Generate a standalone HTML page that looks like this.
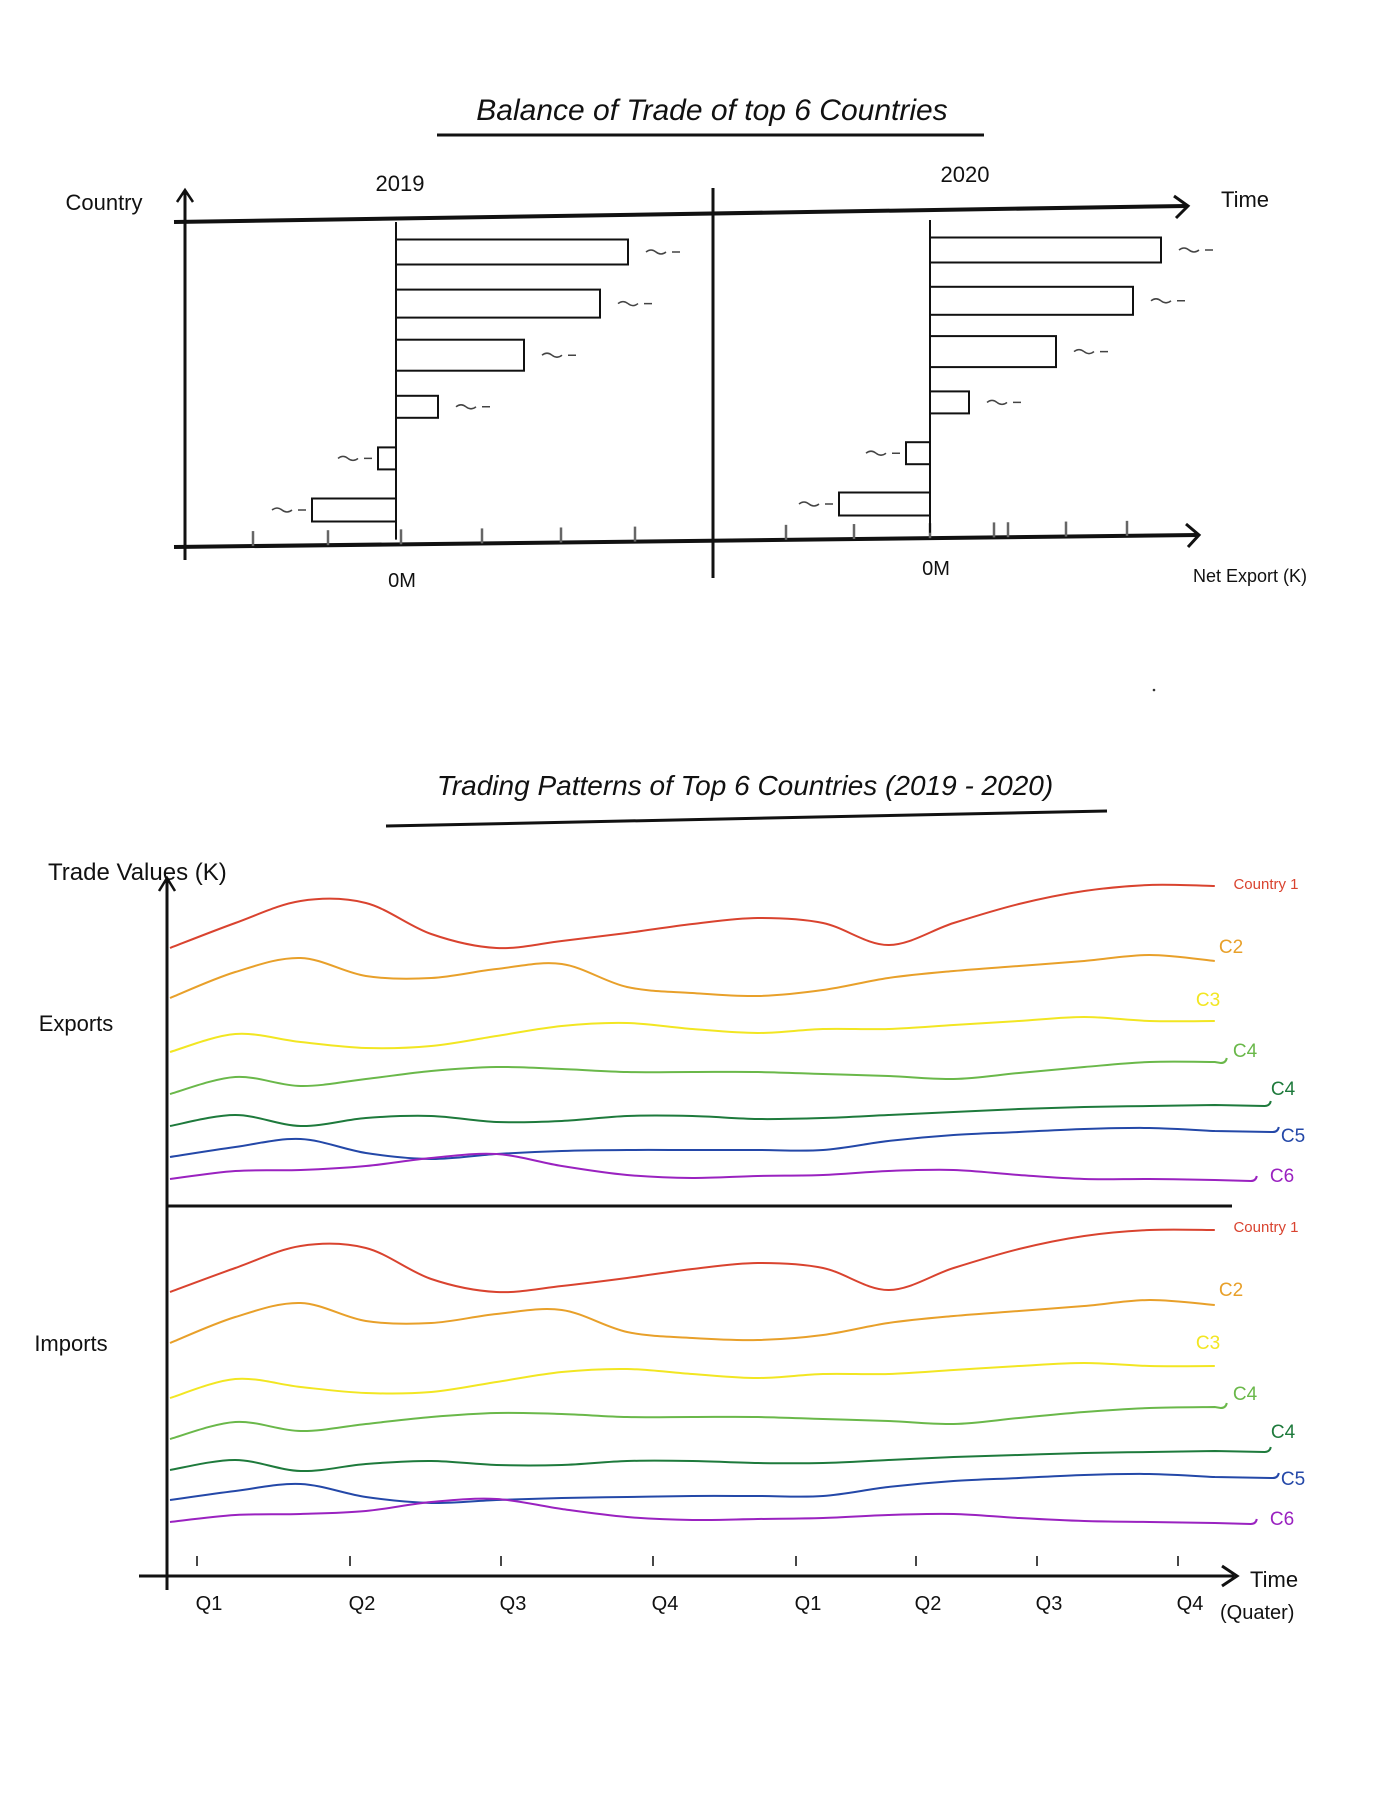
<!DOCTYPE html>
<html><head><meta charset="utf-8"><style>
html,body{margin:0;padding:0;background:#fff;}
svg{display:block;}
text{font-family:"Liberation Sans",sans-serif;}
</style></head><body>
<svg id="c" width="1379" height="1810" viewBox="0 0 1379 1810" xmlns="http://www.w3.org/2000/svg">
<g>
<text x="712" y="120" font-size="30" text-anchor="middle" fill="#111" font-style="italic">Balance of Trade of top 6 Countries</text>
<line x1="437" y1="135" x2="984" y2="135" stroke="#111" stroke-width="3"/>
</g>
<g id="topG"></g>
<g id="botG"></g>
<circle cx="1154" cy="690" r="1.3" fill="#333"/>
</svg>
<script>
const countries=["C1","C2","C3","C4","C5","C6"];
const net2019=[23.2,20.4,12.8,4.2,-1.8,-8.4];
const net2020=[23.1,20.3,12.6,3.9,-2.4,-9.1];
const quarterLabels=["Q1","Q2","Q3","Q4","Q1","Q2","Q3","Q4"];
const seriesNames=["Country 1","C2","C3","C4","C4","C5","C6"];
const expC1=[258,283,305,303,272,258,265,273,282,288,283,261,283,302,315,321,320];
const expC2=[208,234,248,230,228,237,242,219,213,210,216,228,235,240,245,251,245];
const expC3=[154,172,164,158,160,170,180,183,177,173,177,177,181,185,189,185,185];
const expC4=[112,129,120,127,135,139,137,134,134,134,132,130,127,133,139,144,144];
const expC4b=[80,91,80,88,90,84,85,90,90,87,88,91,94,97,99,100,101];
const expC5=[49,59,67,53,47,52,55,56,56,56,56,65,71,74,77,78,75];
const expC6=[27,35,36,40,48,52,40,31,28,30,31,35,36,31,27,27,26];
const impC1=[258,282,304,302,271,258,264,272,281,287,282,260,282,301,314,320,320];
const impC2=[207,233,247,229,227,236,240,218,212,210,215,227,234,239,244,250,245];
const impC3=[152,171,163,157,158,168,178,181,176,172,176,176,180,184,187,184,184];
const impC4=[111,128,119,126,133,137,136,133,133,133,131,129,126,132,138,142,143];
const impC4b=[80,90,79,86,89,85,85,89,89,87,87,90,93,95,97,98,99];
const impC5=[50,59,66,53,47,50,52,53,54,54,54,63,69,72,75,76,73];
const impC6=[28,35,36,39,48,51,41,33,30,31,32,35,36,32,29,28,27];

const NS="http://www.w3.org/2000/svg";
function mk(tag,attrs,parent){const e=document.createElementNS(NS,tag);for(const k in attrs)e.setAttribute(k,attrs[k]);parent.appendChild(e);return e;}
const topG=document.getElementById('topG'), botG=document.getElementById('botG');

let e;
e=mk('line',{x1:174,y1:222,x2:1186,y2:206,stroke:'#111','stroke-width':4},topG);


e=mk('path',{d:'M1174 196 L1188 206 L1176 218',fill:'none',stroke:'#111','stroke-width':3},topG);


e=mk('line',{x1:185,y1:190,x2:185,y2:560,stroke:'#111','stroke-width':3},topG);


e=mk('path',{d:'M177 202 L185 190 L193 202',fill:'none',stroke:'#111','stroke-width':2.5},topG);


e=mk('line',{x1:174,y1:547,x2:1198,y2:535,stroke:'#111','stroke-width':4},topG);


e=mk('path',{d:'M1186 524 L1199 535 L1188 547',fill:'none',stroke:'#111','stroke-width':3},topG);


e=mk('line',{x1:713,y1:188,x2:713,y2:578,stroke:'#111','stroke-width':3},topG);



function label(p,x,y,txt,size,name,color,anchor){const t=mk('text',{x:x,y:y,'font-size':size,fill:color||'#111','text-anchor':anchor||'middle'},p);t.textContent=txt;return t;}
label(topG,104,210,'Country',22,'country-axis-label');
label(topG,1245,207,'Time',22,'time-axis-label');
label(topG,400,191,'2019',22,'year-2019-label');
label(topG,965,182,'2020',22,'year-2020-label');
label(topG,402,587,'0M',20,'zero-label-2019');
label(topG,936,575,'0M',20,'zero-label-2020');
label(topG,1250,582,'Net Export (K)',18,'net-export-label');

const tx19=[253,328,401,482,561,635], tx20=[786,854,930,994,1008,1066,1127];
tx19.concat(tx20).forEach((x,i)=>{
  const yb=547-(x-174)*0.0117;
  const t=mk('line',{x1:x,y1:yb-15,x2:x,y2:yb,stroke:'#666','stroke-width':2.5},topG);
  
  
});

function bars(vals,zero,y0,step,yr){
  const zl=mk('line',{x1:zero,y1:y0-30,x2:zero,y2:y0+6*step-22,stroke:'#111','stroke-width':2},topG);
  
  
  const sx=v=>zero+v*10;
  const hs=[25,28,31,22,22,23];
  vals.forEach((v,i)=>{
    const cy=y0+i*step, h=hs[i];
    const x1=Math.min(zero,sx(v)), w=Math.abs(sx(v)-zero);
    const r=mk('rect',{x:x1,y:cy-h/2,width:w,height:h,fill:'#fff',stroke:'#111','stroke-width':2},topG);
    
    
    const lx=v>=0?sx(v)+18:sx(v)-40;
    const s=mk('path',{d:`M${lx} ${cy} q5 -4 10 0 q5 4 10 0 M${lx+26} ${cy} l8 0`,fill:'none',stroke:'#444','stroke-width':1.5},topG);
    
    
  });
}
bars(net2019,396,252,51.6,'2019');
bars(net2020,930,250,50.8,'2020');

e=mk('text',{x:745,y:795,'font-size':28,'text-anchor':'middle',fill:'#111','font-style':'italic'},botG);
e.textContent='Trading Patterns of Top 6 Countries (2019 - 2020)';


e=mk('line',{x1:386,y1:826,x2:1107,y2:811,stroke:'#111','stroke-width':3},botG);


e=mk('line',{x1:167,y1:878,x2:167,y2:1590,stroke:'#111','stroke-width':3},botG);


e=mk('path',{d:'M159 891 L167 878 L175 891',fill:'none',stroke:'#111','stroke-width':2.5},botG);


e=mk('line',{x1:167,y1:1206,x2:1232,y2:1206,stroke:'#111','stroke-width':3},botG);


e=mk('line',{x1:139,y1:1576,x2:1234,y2:1576,stroke:'#111','stroke-width':3},botG);


e=mk('path',{d:'M1222 1566 L1237 1576 L1222 1586',fill:'none',stroke:'#111','stroke-width':3},botG);


label(botG,48,880,'Trade Values (K)',24,'trade-values-label','#111','start');
label(botG,76,1031,'Exports',22,'exports-label');
label(botG,71,1351,'Imports',22,'imports-label');
label(botG,1250,1587,'Time',22,'time-quarter-label','#111','start');
label(botG,1220,1619,'(Quater)',20,'quater-label','#111','start');

const qx=[197,350,501,653,796,916,1037,1178];
quarterLabels.forEach((q,i)=>{
  const t=mk('line',{x1:qx[i],y1:1556,x2:qx[i],y2:1566,stroke:'#333','stroke-width':1.8},botG);
  
  
  label(botG,qx[i]+12,1610,q,20,'quarter-label-'+(i+1));
});

const colors=['#d9432f','#e8a02a','#f2e622','#6ab84a','#1e7a3c','#2448a8','#9a22c0'];
const tails=[0,0,0,6,50,58,36];
const tx=t=>170+t*130.6;
function path(vals,base,tail){
  const pts=vals.map((v,i)=>[tx(i*0.5),base-v]);
  let d=`M${pts[0][0]} ${pts[0][1]}`;
  for(let i=0;i<pts.length-1;i++){
    const p0=pts[Math.max(0,i-1)],p1=pts[i],p2=pts[i+1],p3=pts[Math.min(pts.length-1,i+2)];
    d+=` C${p1[0]+(p2[0]-p0[0])/6} ${p1[1]+(p2[1]-p0[1])/6} ${p2[0]-(p3[0]-p1[0])/6} ${p2[1]-(p3[1]-p1[1])/6} ${p2[0]} ${p2[1]}`;
  }
  if(tail){const l=pts[pts.length-1];d+=` L${l[0]+tail} ${l[1]+1} q5 0 6 -5`;}
  return d;
}
const labelPos=[[1266,889],[1231,953],[1208,1006],[1245,1057],[1283,1095],[1293,1142],[1282,1182]];
function panel(arr,base,name,shift){
  arr.forEach((vals,i)=>{
    const p=mk('path',{d:path(vals,base,tails[i]),fill:'none',stroke:colors[i],'stroke-width':2},botG);
    
    
    label(botG,labelPos[i][0],labelPos[i][1]+shift,seriesNames[i],i==0?15:19,name+'-legend-'+(i+1),colors[i]);
  });
}
panel([expC1,expC2,expC3,expC4,expC4b,expC5,expC6],1206,'exports',0);
panel([impC1,impC2,impC3,impC4,impC4b,impC5,impC6],1550,'imports',343);
</script>
</body></html>
